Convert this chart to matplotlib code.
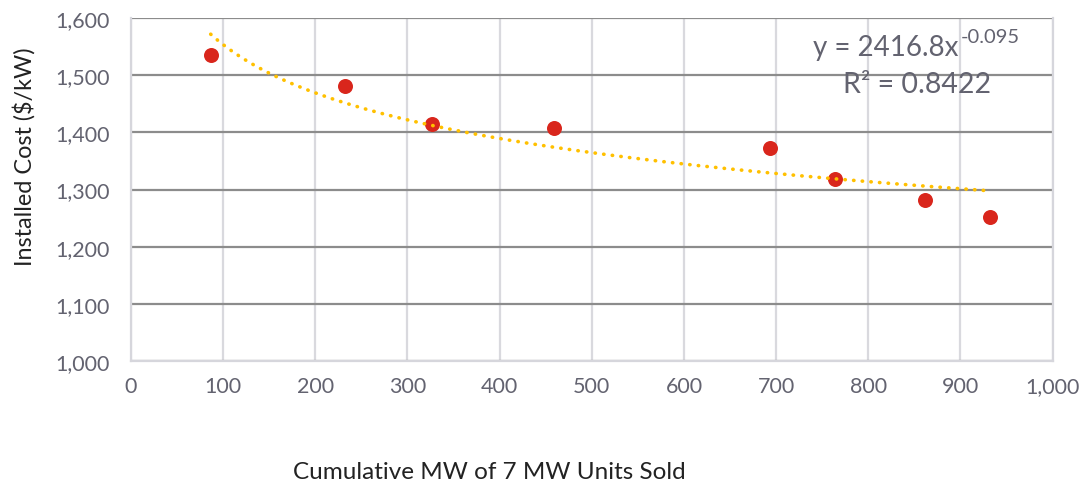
import numpy as np
import matplotlib
matplotlib.use("Agg")
import matplotlib.pyplot as plt
from matplotlib.ticker import FuncFormatter, MultipleLocator

# cumulative MW sold vs installed cost per kW
cumulative_mw = [86.5, 232.7, 327, 458.5, 693, 763.6, 862, 931.6]
installed_cost = [1536, 1481, 1414, 1407, 1373, 1319, 1281, 1252]

equation_text = "y = 2416.8x"
equation_exp = "-0.095"
r2_text = "R\u00b2 = 0.8422"

plt.rcParams['font.family'] = ['Lato', 'DejaVu Sans']
text_color = '#636370'

fig = plt.figure(figsize=(10.86, 4.89), dpi=100)
ax = fig.add_axes([0.1206, 0.2597, 0.8487, 0.7014])

# power-law trendline fitted in log-log space
x = np.array(cumulative_mw)
y = np.array(installed_cost)
slope, intercept = np.polyfit(np.log(x), np.log(y), 1)
xs = np.linspace(x.min(), x.max(), 200)
ax.plot(xs, np.exp(intercept) * xs ** slope, color='#ffc000', lw=2.6,
        linestyle=(0, (0.1, 2.3)), dash_capstyle='round', zorder=4)

ax.plot(x, y, 'o', color='#d9261c', markersize=10.8, markeredgewidth=0, zorder=3)

ax.set_xlim(0, 1000)
ax.set_ylim(1000, 1600)
ax.xaxis.set_major_locator(MultipleLocator(100))
ax.yaxis.set_major_locator(MultipleLocator(100))
fmt = FuncFormatter(lambda v, p: f"{int(v):,}")
ax.xaxis.set_major_formatter(fmt)
ax.yaxis.set_major_formatter(fmt)

ax.tick_params(axis='both', length=0, labelsize=15.5, labelcolor=text_color)
ax.tick_params(axis='y', pad=15)
ax.tick_params(axis='x', pad=11)

ax.grid(axis='y', color='#8c8c8c', lw=1.6, zorder=0)
ax.grid(axis='x', color='#d9d9de', lw=1.6, zorder=0)
ax.set_axisbelow(True)
for side in ['left', 'bottom', 'right']:
    ax.spines[side].set_color('#d6d6dc')
    ax.spines[side].set_linewidth(1.6)
ax.spines['top'].set_visible(False)

# trendline equation
ax.text(0.898, 0.915, equation_text, transform=ax.transAxes, ha='right', va='center',
        fontsize=20, color=text_color)
ax.text(0.900, 0.947, equation_exp, transform=ax.transAxes, ha='left', va='center',
        fontsize=14.5, color=text_color)
ax.text(0.853, 0.808, r2_text, transform=ax.transAxes, ha='center', va='center',
        fontsize=20.5, color=text_color)

fig.text(0.022, 0.68, "Installed Cost ($/kW)", rotation=90, ha='center', va='center',
         fontsize=16.8, color='#222222')
fig.text(0.451, 0.034, "Cumulative MW of 7 MW Units Sold", ha='center', va='center',
         fontsize=17.5, color='#222222')

fig.savefig("out.png", dpi=100)
